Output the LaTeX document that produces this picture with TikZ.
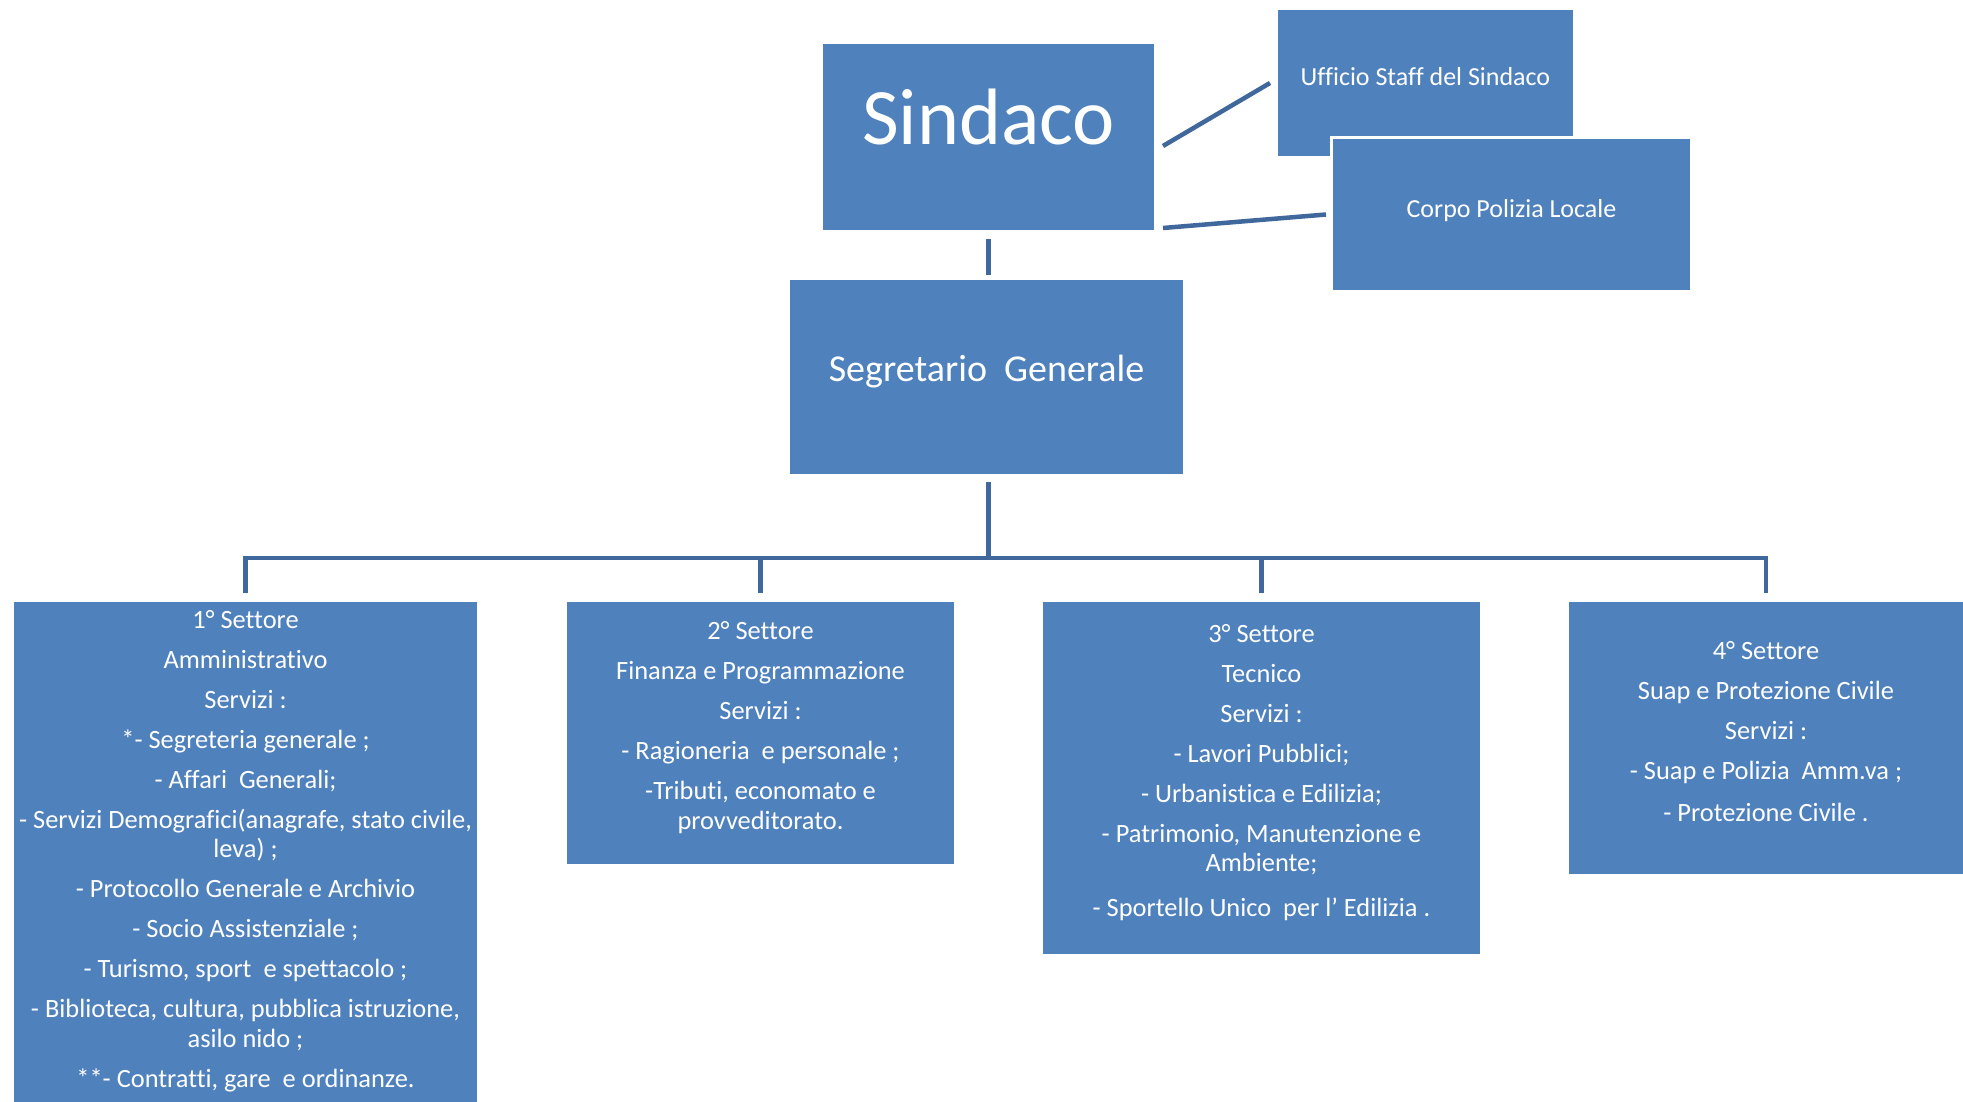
\documentclass[tikz,border=0pt]{standalone}
\usepackage{fontspec}
\setmainfont{Carlito}[Ligatures={NoCommon}]
\usetikzlibrary{calc}
\definecolor{boxblue}{HTML}{4F81BD}
\definecolor{lineblue}{HTML}{40689C}
\begin{document}
\begin{tikzpicture}[x=1pt,y=-1pt,
  box/.style={rectangle, fill=boxblue, draw=white, line width=3pt, inner sep=0pt},
  conn/.style={draw=lineblue, line width=5pt},
  txt/.style={text=white, align=center, inner sep=0pt, anchor=base},
  sect/.style={txt, font=\fontsize{26.4}{29.5}\selectfont}]
\clip (0,0) rectangle (1963,1102);
\fill[white] (0,0) rectangle (1963,1102);

% top boxes
\node[box, minimum width=334pt, minimum height=189pt] (sind) at (988.5,137.5) {};
\node[box, minimum width=298pt, minimum height=149pt] (uff) at (1425.5,83) {};
\node[box, minimum width=360pt, minimum height=154pt] (corpo) at (1511.5,214.5) {};
\node[box, minimum width=396pt, minimum height=197pt] (seg) at (986.5,377) {};

% sector boxes
\node[box, minimum width=466pt, minimum height=513pt] (s1) at (245.5,857) {};
\node[box, minimum width=390pt, minimum height=265pt] (s2) at (760.5,733) {};
\node[box, minimum width=440pt, minimum height=355pt] (s3) at (1261.5,778) {};
\node[box, minimum width=397pt, minimum height=275pt] (s4) at (1766,738) {};

% texts (base anchor = baseline of the last line)
\node[txt, font=\fontsize{80}{96}\selectfont] (tsind) at (988.5,145) {Sindaco};
\node[txt, font=\fontsize{26}{30}\selectfont] (tuff) at (1425.5,86) {Ufficio Staff del Sindaco};
\node[txt, font=\fontsize{26}{30}\selectfont] (tcorpo) at (1511.5,218) {Corpo Polizia Locale};
\node[txt, font=\fontsize{38}{46}\selectfont] (tseg) at (986.5,381) {Segretario~ Generale};

\node[sect] (t1) at (245.5,1087) {1° Settore\\[10.5pt]
Amministrativo\\[10.5pt]
Servizi :\\[10.5pt]
*- Segreteria generale ;\\[10.5pt]
- Affari~ Generali;\\[10.5pt]
- Servizi Demografici(anagrafe, stato civile,\\
leva) ;\\[10.5pt]
- Protocollo Generale e Archivio\\[10.5pt]
- Socio Assistenziale ;\\[10.5pt]
- Turismo, sport~ e spettacolo ;\\[10.5pt]
- Biblioteca, cultura, pubblica istruzione,\\
asilo nido ;\\[10.5pt]
**- Contratti, gare~ e ordinanze.};

\node[sect] (t2) at (760.5,829) {2° Settore\\[10.5pt]
Finanza e Programmazione\\[10.5pt]
Servizi :\\[10.5pt]
- Ragioneria~ e personale ;\\[10.5pt]
-Tributi, economato e\\
provveditorato.};

\node[sect] (t3) at (1261.5,916) {3° Settore\\[10.5pt]
Tecnico\\[10.5pt]
Servizi :\\[10.5pt]
- Lavori Pubblici;\\[10.5pt]
- Urbanistica e Edilizia;\\[10.5pt]
- Patrimonio, Manutenzione e\\
Ambiente;\\[15pt]
- Sportello Unico~ per l' Edilizia .};

\node[sect] (t4) at (1766,821) {4° Settore\\[10.5pt]
Suap e Protezione Civile\\[10.5pt]
Servizi :\\[10.5pt]
- Suap e Polizia~ Amm.va ;\\[12.5pt]
- Protezione Civile .};

% connectors
\draw[conn, line width=4.5pt] ([shift={(6,8.5)}]sind.east) -- ([shift={(-5,0)}]uff.west);
\draw[conn, line width=4.5pt] ([shift={(6,-5.5)}]sind.south east) -- ([shift={(-4,0)}]corpo.west);
\coordinate (sdrop) at ([shift={(0.2,6)}]sind.south);
\draw[conn] (sdrop) -- (sdrop |- 0,275);
\coordinate (bus) at (988.7,558);
\draw[conn] ([shift={(0,5)}]seg.south -| bus) -- (bus);
\draw[conn, line width=4.5pt, line join=miter] ([shift={(0,-6)}]s1.north) |- (bus) -| ([shift={(0,-6)}]s4.north);
\draw[conn, line width=4.5pt] ([shift={(0,-6)}]s2.north) -- (s2.north |- bus);
\draw[conn, line width=4.5pt] ([shift={(0,-6)}]s3.north) -- (s3.north |- bus);
\end{tikzpicture}
\end{document}
